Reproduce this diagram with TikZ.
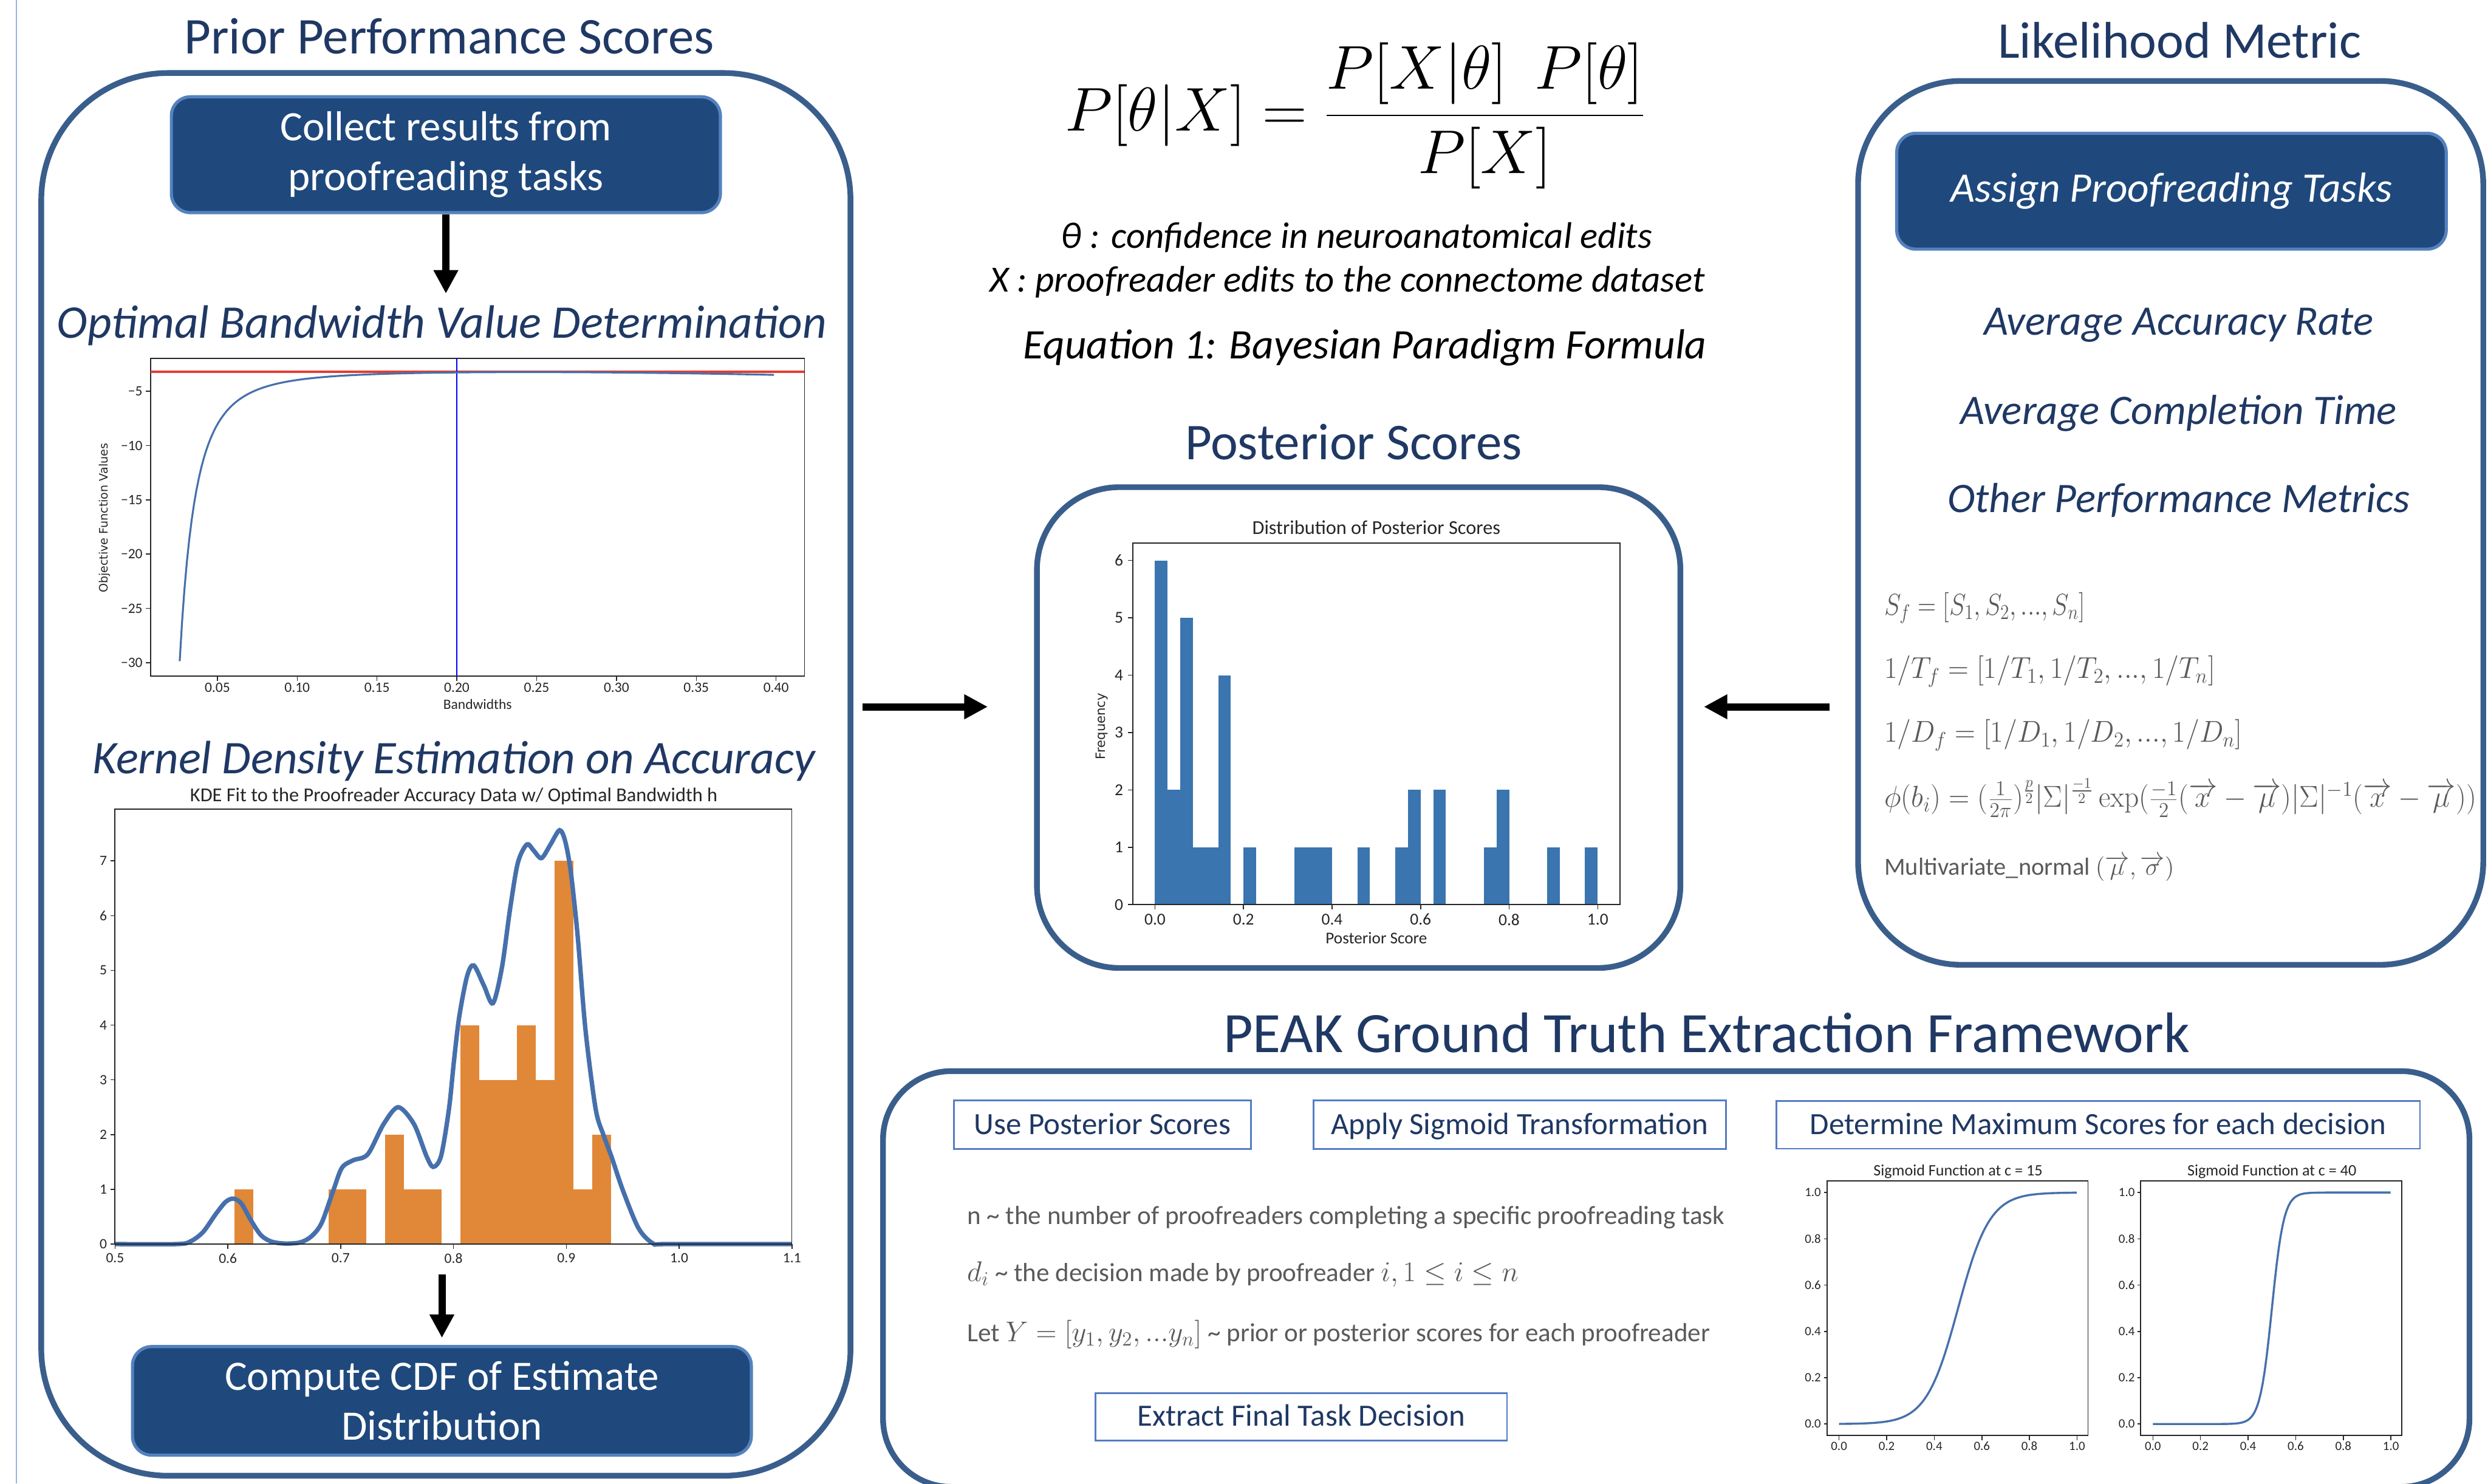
\RequirePackage{fix-cm}
\documentclass[tikz,border=0pt]{standalone}
\usepackage{amsmath}
\usepackage{graphicx}
\usepackage[no-math]{fontspec}
\setmainfont{Carlito}
\newfontfamily\plotlabelfont{DejaVu Sans}
\usetikzlibrary{arrows.meta}

\definecolor{panelblue}{RGB}{58,94,140}
\definecolor{boxfill}{RGB}{31,73,125}
\definecolor{boxedge}{RGB}{84,130,190}
\definecolor{navy}{RGB}{31,56,100}
\definecolor{frameblue}{RGB}{84,124,196}
\definecolor{notegray}{RGB}{90,90,90}
\definecolor{barorange}{RGB}{225,135,56}
\definecolor{barblue}{RGB}{58,117,175}
\definecolor{curveblue}{RGB}{70,112,172}
\definecolor{optred}{RGB}{226,62,52}
\definecolor{edgeline}{RGB}{150,180,225}

\newcommand{\setfs}[2]{\fontsize{#1}{#2}\selectfont}
\newcommand{\notemath}[1]{{\fontsize{18}{21}\selectfont$#1$}}

\begin{document}
\begin{tikzpicture}[x=1pt, y=-1pt,
    panel/.style={draw=panelblue, line width=3.6pt, rounded corners=#1},
    stepbox/.style={fill=boxfill, draw=boxedge, line width=2pt, rounded corners=12pt,
        text=white, align=center, font=\setfs{26.4}{31.5}},
    heading/.style={text=navy, anchor=base, font=\setfs{32.5}{39}},
    subhead/.style={text=navy, anchor=base, font=\setfs{29.5}{35}\itshape},
    metric/.style={text=navy, anchor=base, font=\setfs{26.5}{32}\itshape},
    eqnote/.style={anchor=base, font=\setfs{23.3}{28}\itshape},
    framebox/.style={draw=frameblue, line width=1.1pt, text=navy, inner sep=0pt,
        text height=14pt, text depth=2pt, font=\setfs{19.5}{23}},
    note/.style={text=notegray, anchor=base west, inner sep=0pt, font=\setfs{16.5}{20}},
    formula/.style={text=notegray, anchor=base west, inner sep=0pt, font=\setfs{19}{23}},
    flow/.style={line width=4.6pt, -{Triangle[length=14.8pt, width=14.7pt]}},
    plotframe/.style={draw=black!85, line width=0.7pt},
    ticks/.style={draw=black!85, line width=0.6pt},
    ticklabel/.style={text=black!85, inner sep=0pt, font=\setfs{9}{10}},
    plottitle/.style={text=black!85, anchor=base, inner sep=0pt, font=\setfs{12.4}{14}},
    fitline/.style={draw=curveblue, line width=#1},
    ]
    \fill[white] (0,0) rectangle (1568,935);
    \useasboundingbox (0,0) rectangle (1568,935);

    % slide edge
    \draw[edgeline, line width=0.8pt] (10.4,0) -- (10.4,935);

    % ---------------- Prior Performance Scores
    \node[heading] (priortitle) at (283,34) {Prior Performance Scores};
    \node[panel=80pt, minimum width=510pt, minimum height=884pt] (prior) at (281,488) {};
    \node[stepbox, minimum width=346pt, minimum height=73pt] (collect) at (281,97.5)
        {Collect results from\\proofreading tasks};
    \node[subhead] (bwtitle) at (278.5,213) {Optimal Bandwidth Value Determination};
    \coordinate (bwtop) at (281,185);
    \draw[flow] (collect.south) -- (bwtop);

    % bandwidth plot
    \draw[plotframe] (95,226) rectangle (507,426);
    \begin{scope}[shift={(86.7,212.4)}, x=1006pt, y=6.84pt]
        \draw[optred, line width=1.6pt] (0.00825,-3.22) -- (0.4178,-3.22);
        \draw[blue, line width=0.9pt] (0.2,-1.99) -- (0.2,-31.23);
        \draw[fitline=1.2pt] plot[domain=0.0264:0.4, samples=250, variable=\bw]
            (\bw, {-3.15-4.72*pow(0.05/\bw,2.7)-8*(\bw-0.2)^2});
        \foreach \tk in {0.05,0.10,0.15,0.20,0.25,0.30,0.35,0.40} {
            \draw[ticks] (\tk,-31.23) -- (\tk,-31.67);
            \node[ticklabel] at (\tk,-32.32) {\tk};
        }
        \foreach \tk in {5,10,15,20,25,30} {
            \draw[ticks] (0.00825,-\tk) -- (0.00525,-\tk);
            \node[ticklabel, anchor=east] at (0.0033,-\tk) {−\tk};
        }
    \end{scope}
    \node[text=black!85, font=\setfs{9}{10}, anchor=base] at (301,447) {Bandwidths};
    \node[text=black!85, font=\plotlabelfont\setfs{7.3}{9}, rotate=90] at (66,326.5)
        {Objective Function Values};

    % kernel density plot
    \node[subhead] (kdetitle) at (286,487.4) {Kernel Density Estimation on Accuracy};
    \node[plottitle] at (286,505.3) {KDE Fit to the Proofreader Accuracy Data w/ Optimal Bandwidth h};
    \begin{scope}[shift={(-283,784)}, x=711pt, y=34.5pt]
        \foreach \hgt [count=\idx from 0] in {1,0,0,0,0,1,1,0,2,1,1,0,4,3,3,4,3,7,1,2}
            \fill[barorange] ({0.6059+\idx*0.01669},0) rectangle ++(0.01669,\hgt);
        \draw[fitline=2.8pt] plot[smooth, tension=0.5] coordinates {
            (0.5,0) (0.555,0) (0.567,0.05) (0.578,0.22) (0.589,0.54) (0.598,0.77)
            (0.605,0.83) (0.612,0.74) (0.620,0.45) (0.629,0.17) (0.638,0.05)
            (0.650,0.01) (0.664,0.03) (0.674,0.14) (0.683,0.38) (0.693,0.95)
            (0.701,1.39) (0.711,1.53) (0.724,1.64) (0.738,2.19) (0.751,2.50)
            (0.765,2.19) (0.776,1.61) (0.782,1.41) (0.789,1.61) (0.796,2.47)
            (0.8004,3.34) (0.805,4.14) (0.812,4.89) (0.818,5.09) (0.827,4.72)
            (0.835,4.40) (0.843,5.06) (0.850,6.10) (0.857,6.96) (0.865,7.30)
            (0.871,7.19) (0.878,7.05) (0.886,7.30) (0.894,7.56) (0.899,7.36)
            (0.904,6.79) (0.910,5.64) (0.917,3.91) (0.926,2.47) (0.933,1.99)
            (0.940,1.60) (0.950,0.99) (0.964,0.29) (0.977,0.01) (0.99,0) (1.1,0)};
        \foreach \tk in {0.5,0.6,0.7,0.8,0.9,1.0,1.1} {
            \draw[ticks] (\tk,0) -- (\tk,-0.09);
            \node[ticklabel] at (\tk,-0.258) {\tk};
        }
        \foreach \tk in {0,...,7} {
            \draw[ticks] (0.5,\tk) -- (0.4958,\tk);
            \node[ticklabel, anchor=east] at (0.4931,\tk) {\tk};
        }
    \end{scope}
    \draw[plotframe] (72.5,510) rectangle (499,784);
    \coordinate (kdebase) at (278.5,803);
    \node[stepbox, minimum width=390pt, minimum height=68.4pt] (compute) at (278.5,882.8)
        {Compute CDF of Estimate\\Distribution};
    \draw[flow, shorten >=4.5pt] (kdebase) -- (compute.north);

    % ---------------- Bayesian formula
    \node[anchor=base west, inner sep=0pt, font=\setfs{39}{45}] (bayes) at (671,82.5)
        {$\displaystyle P[\theta|X] = \frac{P[X|\theta]\,\;P[\theta]}{P[X]}$};
    \node[eqnote] (thetanote) at (855,156.2) {θ : confidence in neuroanatomical edits};
    \node[eqnote] (xnote) at (849,184) {X : proofreader edits to the connectome dataset};
    \node[anchor=base, font=\setfs{26.5}{32}\itshape] (eqcap) at (860.3,226)
        {Equation 1: Bayesian Paradigm Formula};

    % ---------------- Posterior Scores
    \node[heading] (posttitle) at (853,289.5) {Posterior Scores};
    \node[panel=52pt, minimum width=405.5pt, minimum height=303pt] (post) at (856.25,458.5) {};
    \begin{scope}[shift={(727.9,570.1)}, x=279pt, y=36.15pt]
        \foreach \hgt [count=\idx from 0] in {6,2,5,1,1,4,0,1,0,0,0,1,1,1,0,0,1,0,0,1,2,0,2,0,0,0,1,2,0,0,0,1,0,0,1}
            \fill[barblue] ({\idx/35},0) rectangle ++({1/35},\hgt);
        \draw[plotframe] (-0.0498,0) rectangle (1.0502,6.307);
        \foreach \tk in {0.0,0.2,0.4,0.6,0.8,1.0} {
            \draw[ticks] (\tk,0) -- (\tk,-0.083);
            \node[ticklabel, font=\setfs{10.5}{12}] at (\tk,-0.26) {\tk};
        }
        \foreach \tk in {0,...,6} {
            \draw[ticks] (-0.0498,\tk) -- (-0.0606,\tk);
            \node[ticklabel, font=\setfs{10.5}{12}, anchor=east] at (-0.0713,\tk) {\tk};
        }
    \end{scope}
    \node[plottitle] at (867.4,336.8) {Distribution of Posterior Scores};
    \node[text=black!85, font=\setfs{10.4}{12}, anchor=base] at (867.4,594.5) {Posterior Score};
    \node[text=black!85, font=\plotlabelfont\setfs{8.1}{10}, rotate=90] at (694.4,457.7) {Frequency};

    % ---------------- Likelihood Metric
    \node[heading] (liketitle) at (1373.6,36.6) {Likelihood Metric};
    \node[panel=65pt, minimum width=394pt, minimum height=557pt] (like) at (1368,329.5) {};
    \node[stepbox, minimum width=346.3pt, minimum height=73pt, font=\setfs{26.5}{32}\itshape]
        (assign) at (1368.5,120.5) {Assign Proofreading Tasks};
    \node[metric] (accrate) at (1373,211.1) {Average Accuracy Rate};
    \node[metric] (comptime) at (1373,267.2) {Average Completion Time};
    \node[metric] (othermet) at (1373,322.8) {Other Performance Metrics};
    \node[formula] (sf) at (1187.4,387.4) {\scalebox{0.84}[1]{$S_f = [S_1, S_2, ..., S_n]$}};
    \node[formula] (tf) at (1187.4,427.5) {\scalebox{0.945}[1]{$1/T_f = [1/T_1, 1/T_2, ..., 1/T_n]$}};
    \node[formula] (df) at (1187.4,467.7) {\scalebox{0.945}[1]{$1/D_f = [1/D_1, 1/D_2, ..., 1/D_n]$}};
    \node[formula] (phi) at (1187.4,508.7)
        {\scalebox{0.955}[1]{$\phi(b_i) = (\frac{1}{2\pi})^{\frac{p}{2}} |\Sigma|^{\frac{-1}{2}} \exp(\frac{-1}{2}(\overrightarrow{x} - \overrightarrow{\mu})|\Sigma|^{-1}(\overrightarrow{x} - \overrightarrow{\mu}))$}};
    \node[formula, font=\setfs{15.5}{19}] (mvn) at (1187.4,551.5)
        {Multivariate\_normal $(\overrightarrow{\mu}, \overrightarrow{\sigma})$};

    % panel connectors
    \coordinate (midrow) at (0,445.4);
    \draw[flow, shorten <=5.6pt, shorten >=29.2pt] (prior.east |- midrow) -- (post.west |- midrow);
    \draw[flow, shorten <=16.2pt, shorten >=13pt] (like.west |- midrow) -- (post.east |- midrow);

    % ---------------- PEAK framework
    \node[heading, font=\setfs{36}{43}] (peaktitle) at (1075.5,663.3) {PEAK Ground Truth Extraction Framework};
    \node[panel=43pt, minimum width=999.8pt, minimum height=262pt] (peak) at (1056.4,806) {};
    \node[framebox, minimum width=187.4pt, minimum height=30.4pt] (usepost) at (694.8,708.8)
        {Use Posterior Scores};
    \node[framebox, minimum width=259.9pt, minimum height=30.4pt] (sigmoid) at (957.65,708.8)
        {Apply Sigmoid Transformation};
    \node[framebox, minimum width=405.6pt, minimum height=30.1pt] (maxscore) at (1322.3,708.85)
        {Determine Maximum Scores for each decision};
    \node[note] (nnote) at (609.3,771.6)
        {n \textasciitilde{} the number of proofreaders completing a specific proofreading task};
    \node[note] (dnote) at (609.3,807.5)
        {\notemath{d_i} \textasciitilde{} the decision made by proofreader \notemath{i, 1 \leq i \leq n}};
    \node[note] (ynote) at (609.3,845.5)
        {Let \notemath{Y = [y_1, y_2, ...y_n]} \textasciitilde{} prior or posterior scores for each proofreader};
    \node[framebox, minimum width=259.5pt, minimum height=30pt] (extract) at (820,892.8)
        {Extract Final Task Decision};

    % sigmoid plots
    \foreach \cval/\ox in {15/1159, 40/1356.8} {
        \begin{scope}[shift={(\ox,897.4)}, x=150pt, y=145.9pt]
            \draw[plotframe] (-0.051,-0.05) rectangle (1.046,1.051);
            \draw[fitline=1.3pt] plot[domain=0:1, samples=120, variable=\sx]
                (\sx, {1/(1+exp(max(-9,min(9,-\cval*(\sx-0.5)))))});
            \foreach \tk in {0.0,0.2,0.4,0.6,0.8,1.0} {
                \draw[ticks] (\tk,-0.05) -- (\tk,-0.07);
                \node[ticklabel, font=\setfs{8}{9}] at (\tk,-0.0946) {\tk};
                \draw[ticks] (-0.051,\tk) -- (-0.064,\tk);
                \node[ticklabel, font=\setfs{8}{9}, anchor=east] at (-0.075,\tk) {\tk};
            }
            \node[plottitle, font=\setfs{10}{12}] at (0.5,1.072) {Sigmoid Function at c = \cval};
        \end{scope}
    }
\end{tikzpicture}
\end{document}
